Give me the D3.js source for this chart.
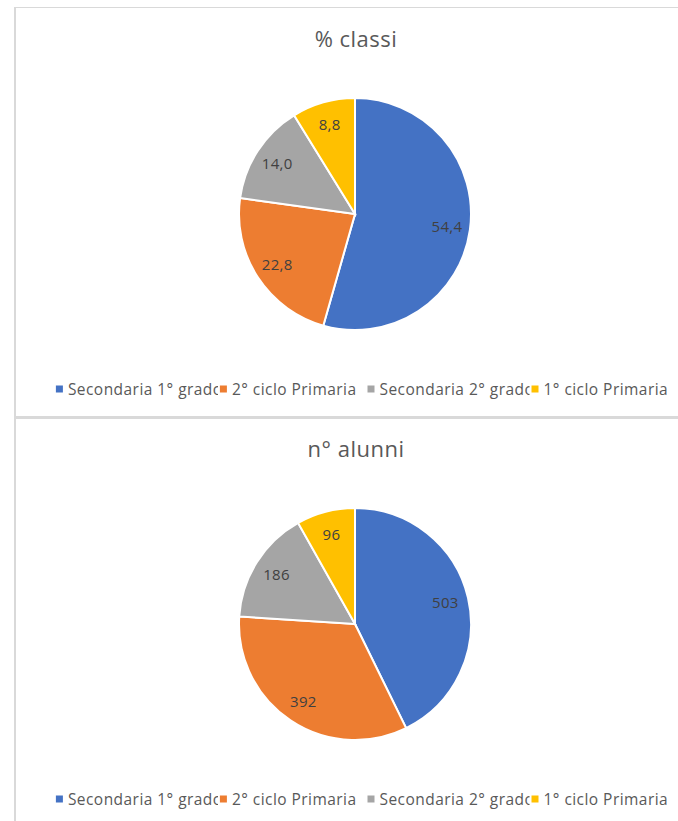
<!DOCTYPE html>
<html>
<head>
<meta charset="utf-8">
<script src="https://cdnjs.cloudflare.com/ajax/libs/d3/7.8.5/d3.min.js"></script>
<style>
  html, body { margin: 0; padding: 0; background: #fff; }
  svg { display: block; font-family: "Open Sans", sans-serif; }
</style>
</head>
<body>
<div id="chart"></div>
<script>
// data
const categories = ["Secondaria 1° grado", "2° ciclo Primaria", "Secondaria 2° grado", "1° ciclo Primaria"];
const classiValues = [54.4, 22.8, 14.0, 8.8];
const alunniValues = [503, 392, 186, 96];
const sliceColors = ["#4472C4", "#ED7D31", "#A5A5A5", "#FFC000"];

const W = 678, H = 821;
const itLocale = d3.formatLocale({ decimal: ",", thousands: ".", grouping: [3], currency: ["€", ""] });

const svg = d3.select("#chart")
  .append("svg")
  .attr("width", W)
  .attr("height", H);

svg.append("rect").attr("width", W).attr("height", H).attr("fill", "#fff");

// chart frames (Excel chart area borders)
const borderColor = "#d9d9d9";
svg.append("line")
  .attr("x1", 15).attr("x2", W).attr("y1", 7.5).attr("y2", 7.5)
  .attr("stroke", borderColor).attr("stroke-width", 1);
svg.append("line")
  .attr("x1", 15).attr("x2", 15).attr("y1", 7).attr("y2", H)
  .attr("stroke", borderColor).attr("stroke-width", 2);
svg.append("rect")
  .attr("x", 15).attr("y", 416).attr("width", W - 15).attr("height", 3)
  .attr("fill", borderColor);

function drawPie(g, title, values, fmt) {
  const cx = 355, cy = 214, r = 116;

  g.append("text")
    .attr("x", cx + 1)
    .attr("y", 47)
    .attr("text-anchor", "middle")
    .attr("font-size", 22)
    .attr("letter-spacing", "0.5px")
    .attr("fill", "#595959")
    .text(title);

  const pie = d3.pie().sort(null).value((d) => d);
  const arcs = pie(values);
  const arc = d3.arc().innerRadius(0).outerRadius(r);
  const labelArc = d3.arc().innerRadius(r * 0.8).outerRadius(r * 0.8);

  const plot = g.append("g").attr("transform", `translate(${cx},${cy})`);

  plot.selectAll("path")
    .data(arcs)
    .enter()
    .append("path")
    .attr("d", arc)
    .attr("fill", (d, i) => sliceColors[i])
    .attr("stroke", "#fff")
    .attr("stroke-width", 2);

  plot.selectAll(".lbl")
    .data(arcs)
    .enter()
    .append("text")
    .attr("class", "lbl")
    .attr("transform", (d) => `translate(${labelArc.centroid(d)})`)
    .attr("text-anchor", "middle")
    .attr("dy", "0.36em")
    .attr("font-size", 15)
    .attr("letter-spacing", "0.3px")
    .attr("fill", "#404040")
    .text((d) => fmt(d.data));

  // legend: Excel clips long entries to a max slot width
  const legendY = 389;
  const maxSlot = 164;
  const legend = g.append("g");
  const items = legend.selectAll(".item")
    .data(categories)
    .enter()
    .append("g")
    .attr("class", "item");

  items.append("text")
    .attr("x", 12)
    .attr("y", legendY)
    .attr("dy", "0.36em")
    .attr("font-size", 15.5)
    .attr("letter-spacing", "0.45px")
    .attr("fill", "#595959")
    .text((d) => d);

  let x = 0;
  const slots = [];
  items.each(function (d, i) {
    const w = d3.select(this).select("text").node().getComputedTextLength();
    const slot = Math.min(12 + w + 11, maxSlot);
    slots.push({ x, slot, w });
    x += slot;
  });
  const last = slots[slots.length - 1];
  const total = last.x + 12 + last.w;
  const x0 = 362 - total / 2;

  items.each(function (d, i) {
    const s = slots[i];
    const item = d3.select(this).attr("transform", `translate(${x0 + s.x},0)`);
    const clipId = `clip-${title.replace(/\W/g, "")}-${i}`;
    item.append("clipPath").attr("id", clipId)
      .append("rect")
      .attr("x", 12).attr("y", legendY - 15)
      .attr("width", s.slot - 14).attr("height", 30);
    item.select("text").attr("clip-path", `url(#${clipId})`);
    item.append("rect")
      .attr("x", 0).attr("y", legendY - 3.5)
      .attr("width", 7).attr("height", 7)
      .attr("fill", sliceColors[i]);
  });
}

drawPie(svg.append("g"), "% classi", classiValues, itLocale.format(".1f"));
drawPie(svg.append("g").attr("transform", "translate(0,410)"), "n° alunni", alunniValues, d3.format("d"));
</script>
</body>
</html>
